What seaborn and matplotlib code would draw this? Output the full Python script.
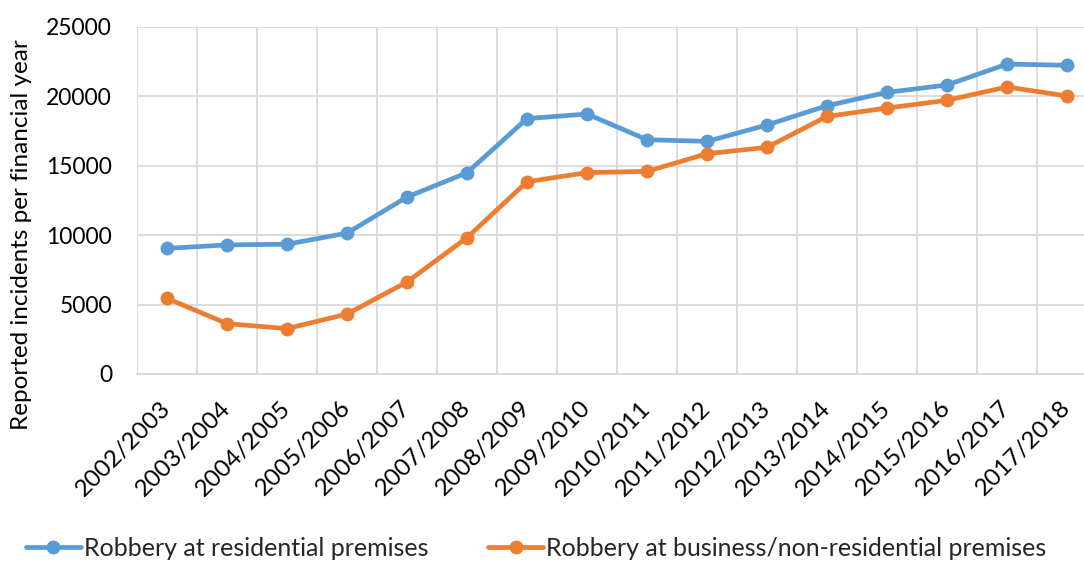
import matplotlib
matplotlib.use("Agg")
import matplotlib.pyplot as plt
import seaborn as sns
import pandas as pd
import numpy as np

# Financial years on the category axis
years = ["2002/2003", "2003/2004", "2004/2005", "2005/2006", "2006/2007",
         "2007/2008", "2008/2009", "2009/2010", "2010/2011", "2011/2012",
         "2012/2013", "2013/2014", "2014/2015", "2015/2016", "2016/2017",
         "2017/2018"]

# Reported incidents per financial year
residential = [9050, 9300, 9350, 10150, 12750, 14500, 18400, 18730,
               16880, 16760, 17940, 19330, 20290, 20820, 22330, 22240]
business = [5450, 3630, 3270, 4320, 6630, 9820, 13850, 14510,
            14600, 15870, 16330, 18560, 19160, 19720, 20680, 20030]

series_names = ["Robbery at residential premises",
                "Robbery at business/non-residential premises"]
y_ticks = [0, 5000, 10000, 15000, 20000, 25000]

blue = "#5B9BD5"
orange = "#ED7D31"
grid_col = "#D9D9D9"

sns.set_theme(style="white")
plt.rcParams["font.family"] = ["Lato", "DejaVu Sans"]

df = pd.DataFrame({
    "pos": list(range(len(years))) * 2,
    "value": residential + business,
    "series": [series_names[0]] * len(years) + [series_names[1]] * len(years),
})

fig = plt.figure(figsize=(10.84, 5.61), dpi=100)
W, H = 1084, 561
left, right, top, bottom = 137, 1097, 27, 374
ax = fig.add_axes([left / W, 1 - bottom / H, (right - left) / W, (bottom - top) / H])

lw, ms = 3.4, 10
sns.lineplot(data=df, x="pos", y="value", hue="series",
             palette=[blue, orange], marker="o", markersize=ms,
             markeredgewidth=0, linewidth=lw, ax=ax, legend=False,
             zorder=3)

n = len(years)
ax.set_xlim(-0.5, n - 0.5)
ax.set_ylim(0, 25000)

# Category labels sit between the vertical gridlines
ax.set_xticks(range(n))
ax.set_xticklabels(years, rotation=45, ha="right", va="center",
                   rotation_mode="anchor", fontsize=17.5, color="black")
ax.set_xticks(np.arange(-0.5, n, 1.0), minor=True)
ax.set_yticks(y_ticks)
ax.set_yticklabels([str(v) for v in y_ticks], fontsize=16.5, color="black")

ax.tick_params(axis="x", which="major", length=0, pad=22)
ax.tick_params(axis="x", which="minor", length=0)
ax.tick_params(axis="y", length=0, pad=18)

ax.grid(False)
ax.grid(True, axis="x", which="minor", color=grid_col, linewidth=1.3, zorder=0)
ax.grid(True, axis="y", which="major", color=grid_col, linewidth=1.3, zorder=0)
for s in ["top", "right", "left"]:
    ax.spines[s].set_visible(False)
ax.spines["bottom"].set_color(grid_col)
ax.spines["bottom"].set_linewidth(1.3)

ax.set_xlabel("")
ax.set_ylabel("Reported incidents per financial year", fontsize=17.5,
              color="black")
ax.yaxis.set_label_coords(-(left - 32) / (right - left), (bottom - 235) / (bottom - top))

handles = [
    plt.Line2D([], [], color=blue, linewidth=lw, marker="o", markersize=ms,
               markeredgewidth=0),
    plt.Line2D([], [], color=orange, linewidth=lw, marker="o", markersize=ms,
               markeredgewidth=0),
]
fig.legend(handles, series_names, loc="center", ncol=2, frameon=False,
           fontsize=18, handlelength=2.2, handletextpad=0.12,
           columnspacing=2.4, bbox_to_anchor=(536 / W, 1 - 548 / H))

fig.savefig("out.png", dpi=100)
